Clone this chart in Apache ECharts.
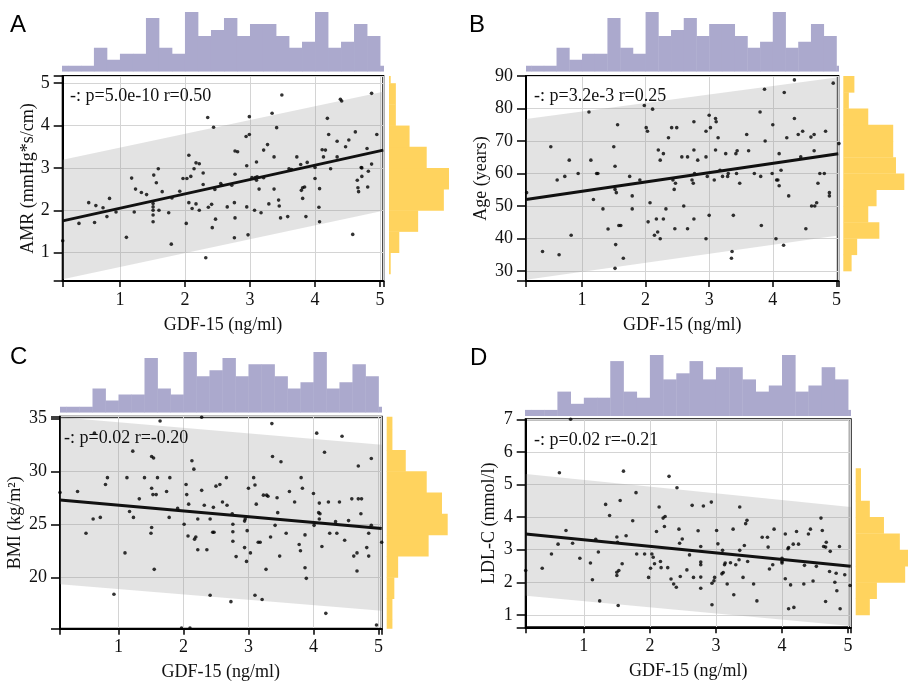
<!DOCTYPE html>
<html><head><meta charset="utf-8">
<script src="https://cdn.jsdelivr.net/npm/echarts@6/dist/echarts.min.js"></script>
<style>html,body{margin:0;padding:0;background:#fff}#c{width:908px;height:685px}</style>
</head><body><div id="c"></div>
<script>
// ---------------- DATA ----------------
// GDF-15 histogram (same for every panel)
const gdfBinEdges = [0,0.2,0.4,0.6,0.8,1.0,1.2,1.4,1.6,1.8,2.0,2.2,2.4,2.6,2.8,3.0,3.2,3.4,3.6,3.8,4.0,4.2,4.4,4.6,4.8,5.0,5.2];
const gdfHistCounts = [1,1,1,4,2,3,3,9,4,3,10,6,7,9,6,8,8,6,4,5,10,4,5,8,6,1];

// Panel A: AMR
const amrPoints = [[3.49,4.72],[4.87,4.76],[4.41,4.58],[4.39,4.62],[2.35,4.19],[2.99,4.21],[3.34,4.29],[2.44,3.96],[3.41,3.95],[4.19,4.17],[2.94,3.74],[2.99,3.79],[4.21,3.79],[4.95,3.79],[4.34,3.63],[4.52,3.66],[4.62,3.85],[3.27,3.55],[4.47,3.5],[2.77,3.4],[2.81,3.38],[2.06,3.3],[2.17,3.12],[2.22,3.1],[3.21,3.42],[3.1,3.14],[2.95,3.05],[3.37,3.26],[3.72,3.26],[3.78,3.08],[3.88,3.13],[4.11,3.43],[4.16,3.42],[4.13,3.26],[4.34,3.26],[4.8,3.46],[4.87,3.09],[4.72,3.0],[1.59,2.98],[2.14,2.98],[3.6,2.98],
[0.12,1.28],[0.37,1.69],[0.52,2.18],[0.61,1.71],[0.63,2.11],[0.74,2.06],[0.8,1.85],[0.84,2.28],[0.94,1.96],[1.1,1.36],[1.18,2.76],[1.22,1.96],[1.24,2.5],[1.33,2.42],[1.41,2.37],[1.51,2.16],[1.51,2.08],[1.51,2.0],[1.51,1.89],[1.51,1.73],[1.52,2.83],[1.56,2.65],[1.6,2.0],[1.65,2.44],[1.75,1.94],[1.79,1.2],[1.8,2.29],[1.92,2.45],[1.97,2.75],[2.02,1.69],[2.03,2.75],[2.06,2.18],[2.09,2.8],[2.11,2.04],[2.17,2.15],[2.22,2.0],[2.28,2.88],[2.28,2.61],[2.32,0.88],[2.36,2.07],[2.41,2.14],[2.42,1.59],[2.46,2.49],[2.47,1.79],[2.55,2.63],[2.57,2.59],[2.65,2.08],[2.72,2.59],[2.76,2.18],[2.77,2.85],[2.77,1.82],[2.76,1.35],[2.95,2.08],[2.97,1.42],[3.03,2.77],[3.08,2.77],[3.11,2.79],[3.1,2.71],[3.07,2.0],[3.14,2.5],[3.17,1.94],[3.21,2.77],[3.29,2.15],[3.37,2.5],[3.44,2.24],[3.45,2.1],[3.47,1.82],[3.58,1.85],[3.64,2.96],[3.79,2.47],[3.81,2.53],[3.84,2.55],[3.81,2.28],[3.86,1.85],[4.0,3.01],[4.0,2.75],[4.06,2.07],[4.07,1.73],[4.07,2.51],[4.24,2.98],[4.58,1.43],[4.65,2.71],[4.66,2.53],[4.67,2.44],[4.71,3.01],[4.72,2.8],[4.81,2.55],[4.82,2.92]];
const amrFit = [[0.12,1.75],[5.05,3.42]];
const amrBand = [[0.12,0.37,3.19],[5.05,1.99,4.80]]; // x, lower, upper
const amrBinEdges = [0.5,1.0,1.5,2.0,2.5,3.0,3.5,4.0,4.5,5.0,5.5];
const amrHistCounts = [1,6,17,32,35,22,12,4,4,1];

// Panel B: Age
const agePoints = [[4.34,88.8],[4.95,87.8],[3.87,85.9],[4.18,84.9],[1.98,80.9],[2.11,79.8],[1.11,78.9],[3.8,78.9],[3.0,77.9],[3.1,76.9],[3.11,75.9],[4.34,76.9],[2.76,75.9],[1.56,75.0],[4.0,75.0],[2.01,74.1],[2.03,73.0],[2.41,74.1],[2.49,74.1],[3.02,74.1],[2.95,73.0],[4.83,73.0],[3.59,72.0],[4.4,72.0],[4.47,73.0],[4.6,71.2],[4.65,72],[4.22,71.0],[3.14,71.0],[2.36,71.0],[3.88,70.0],[0.51,68.2],[1.5,68.2],[5.04,69.2],[2.2,67.2],[2.28,66.1],[2.76,67.2],[2.57,65.1],[2.66,65.1],[2.82,64.1],[2.95,65.1],[3.1,67.2],[3.26,66.1],[3.42,66.1],[3.44,67],[3.62,67],[4.1,66.1],[4.44,65.1],[4.65,67],[0.8,64.1],[1.14,64.1],[2.23,64.1],
[0.13,54.1],[0.38,36.0],[0.61,58.0],[0.64,35.0],[0.73,59.1],[0.83,41.0],[0.94,60.0],[1.18,52.0],[1.23,60],[1.25,60],[1.33,49.1],[1.41,42.9],[1.52,62.2],[1.52,55.1],[1.54,54.1],[1.53,38.1],[1.52,30.8],[1.58,44],[1.61,44],[1.65,33.9],[1.75,59.1],[1.79,53.1],[1.79,49.1],[1.91,58.0],[2.04,45.1],[2.07,51.0],[2.14,41],[2.17,46.0],[2.19,42],[2.23,39.9],[2.28,46],[2.32,49.1],[2.43,58],[2.45,55.1],[2.47,57],[2.46,43.0],[2.6,50],[2.66,43],[2.73,58],[2.75,57],[2.77,60],[2.76,46],[2.95,39.9],[2.97,59.1],[3.0,47.1],[3.08,58],[3.17,61],[3.21,59.1],[3.29,59.1],[3.3,60],[3.35,33.9],[3.36,36],[3.38,47.1],[3.43,60],[3.48,57],[3.71,60],[3.81,59.1],[3.82,44],[3.99,60],[4.05,39.9],[4.06,58],[4.08,58],[4.1,56.2],[4.13,61],[4.17,37.9],[4.25,53.1],[4.52,43],[4.71,57],[4.74,60],[4.81,60],[4.61,50],[4.66,50],[4.69,51],[4.89,54.1],[4.89,53.1]];
const ageFit = [[0.12,52.0],[5.03,66.1]];
const ageBand = [[0.12,27.3,76.8],[5.03,40.9,89.6]];
const ageBinEdges = [30,35,40,45,50,55,60,65,70,75,80,85,90];
const ageHistCounts = [3,5,13,9,12,22,19,18,18,9,2,4];

// Panel C: BMI
const bmiPoints = [[0.63,33.6],[1.64,34.75],[2.28,35.1],[3.36,34.5],[4.05,33.6],[4.44,33.3],[1.22,31.9],[1.51,31.4],[1.54,31.25],[2.13,31.0],[2.16,30.2],[3.37,31.4],[3.5,30.9],[4.17,31.8],[4.89,31.2],[4.69,30.5],[0.1,28.0],[0.37,28.1],[0.8,28.75],[0.83,29.4],[1.13,29.4],[1.32,27.4],[1.4,29.4],[1.51,28.4],[1.53,27.8],[1.58,27.8],[1.6,29.4],[1.74,28.1],[1.79,29.4],[2.04,28.75],[2.05,27.8],[2.08,26.9],[2.28,28.2],[2.32,26.8],[2.46,26.6],[2.5,28.6],[2.56,28.75],[2.6,27.1],[2.66,29.4],[2.67,26.8],[3.0,28.4],[3.08,29.4],[3.1,28.7],[3.12,26.9],[3.23,27.75],[3.28,27.75],[3.3,27.65],[3.44,27.5],[3.63,28.1],[3.71,27.1],[3.81,29.4],[3.83,28.4],[4.0,27.9],[4.09,27.0],[4.23,27.1],[4.4,27.1],[4.59,27.4],[4.69,27.4],[4.74,27.4],
[0.5,24.15],[0.61,25.5],[0.72,25.65],[0.93,18.4],[1.1,22.3],[1.17,26.2],[1.23,25.65],[1.5,24.15],[1.51,24.7],[1.55,20.75],[1.78,25.65],[1.91,26.5],[1.97,15.2],[2.1,15.2],[2.01,25],[2.07,23.9],[2.17,23.6],[2.19,23.8],[2.22,25.5],[2.22,22.6],[2.36,22.6],[2.41,18.3],[2.41,25.5],[2.45,24.25],[2.47,24.25],[2.73,17.7],[2.75,26.0],[2.76,25.0],[2.76,24.3],[2.76,23.4],[2.81,21.95],[2.94,25.3],[2.95,25.5],[2.94,22.8],[2.97,21.5],[2.98,24.4],[3.03,22.3],[3.1,18.3],[3.15,23.3],[3.18,23.3],[3.21,17.9],[3.27,20.75],[3.34,23.8],[3.41,24.9],[3.45,26.1],[3.48,22.0],[3.58,24.15],[3.78,23.1],[3.8,22.5],[3.87,24.0],[3.87,20.9],[3.89,19.9],[4.01,24.9],[4.08,26.1],[4.1,26.0],[4.09,25.5],[4.13,22.9],[4.19,16.6],[4.25,24.15],[4.34,25.25],[4.36,24.15],[4.48,23.5],[4.54,25.35],[4.62,22.0],[4.67,22.3],[4.67,20.6],[4.73,26.0],[4.82,22.8],[4.85,24.15],[4.85,22.0],[4.89,24.9],[4.97,15.5],[5.05,23.3]];
const bmiFit = [[0.1,27.3],[5.05,24.6]];
const bmiBand = [[0.1,19.35,35.1],[5.05,16.85,32.5]];
const bmiBinEdges = [14,16,18,20,22,24,26,28,30,32,34,36];
const bmiHistCounts = [3,3,4,6,22,32,29,21,10,3,3];

// Panel D: LDL-C
const ldlPoints = [[0.8,7.0],[0.63,5.36],[1.6,5.41],[2.29,5.25],[2.41,4.9],[1.79,4.75],[1.33,4.39],[1.55,4.51],[2.14,4.31],[2.64,4.36],[2.81,4.34],[2.93,4.46],[3.36,4.31],
[0.12,2.36],[0.37,2.43],[0.51,2.87],[0.61,3.17],[0.73,3.59],[0.83,3.2],[0.94,2.74],[1.1,2.59],[1.13,2.08],[1.18,3.32],[1.22,2.93],[1.24,1.43],[1.39,4.05],[1.5,3.39],[1.51,3.23],[1.5,2.21],[1.5,2.31],[1.53,2.36],[1.52,1.29],[1.58,2.57],[1.64,3.43],[1.74,3.89],[1.8,2.87],[1.92,2.87],[1.98,2.15],[2.01,2.43],[2.03,2.87],[2.05,2.77],[2.07,2.57],[2.1,3.56],[2.16,2.64],[2.17,2.45],[2.2,3.97],[2.23,4.02],[2.22,3.71],[2.27,2.45],[2.32,2.1],[2.36,1.95],[2.4,1.85],[2.44,3.63],[2.45,3.2],[2.49,3.33],[2.46,2.18],[2.56,2.38],[2.6,2.84],[2.66,2.15],[2.73,3.58],[2.77,3.1],[2.77,2.62],[2.77,2.54],[2.77,1.82],[2.77,2.16],[2.94,1.97],[2.97,2.05],[2.98,2.15],[2.94,1.31],[3.01,3.59],[3.03,3.18],[3.1,2.98],[3.09,2.26],[3.11,2.3],[3.13,2.54],[3.14,2.59],[3.17,1.95],[3.22,2.6],[3.26,3.63],[3.27,1.62],[3.3,2.54],[3.35,2.69],[3.36,2.98],[3.41,2.15],[3.43,3.13],[3.45,3.8],[3.47,3.9],[3.48,2.64],[3.57,1.95],[3.62,1.43],[3.7,3.38],[3.78,3.38],[3.79,3.08],[3.81,2.41],[3.86,2.54],[3.88,3.63],[4.0,2.74],[4.0,2.64],[4.0,2.59],[4.05,3.48],[4.05,2.11],[4.09,3.03],[4.1,3.07],[4.1,1.19],[4.13,1.92],[4.17,3.17],[4.18,1.23],[4.22,3.56],[4.25,3.17],[4.33,1.95],[4.34,2.52],[4.4,3.48],[4.43,3.63],[4.47,2.04],[4.52,2.49],[4.59,3.97],[4.61,3.59],[4.63,3.1],[4.66,3.08],[4.67,3.23],[4.66,1.41],[4.72,2.33],[4.73,2.95],[4.8,2.0],[4.82,2.28],[4.83,1.74],[4.87,3.1],[4.88,1.19],[4.95,2.23],[5.03,1.9]];
const ldlFit = [[0.12,3.48],[5.04,2.49]];
const ldlBand = [[0.12,1.59,5.32],[5.04,0.66,4.31]];
const ldlBinEdges = [1.0,1.5,2.0,2.5,3.0,3.5,4.0,4.5,5.0,5.5];
const ldlHistCounts = [8,12,28,30,25,16,8,3,3];

const xAxisName = 'GDF-15 (ng/ml)';
const panelLetters = ['A','B','C','D'];
const yAxisNames = ['AMR (mmHg*s/cm)','Age (years)','BMI (kg/m\u00b2)','LDL-C (mmol/l)'];
const statTexts = ['-: p=5.0e-10 r=0.50','-: p=3.2e-3 r=0.25','-: p=0.02 r=-0.20','-: p=0.02 r=-0.21'];

// ---------------- LAYOUT ----------------
const panels = [
  {pts:amrPoints, fit:amrFit, band:amrBand, edges:amrBinEdges, counts:amrHistCounts,
   L:62.7, T:76, W:320.6, H:205, xMin:0.12, xMax:5.05, yMin:0.33, yMax:5.17,
   hT:12, hH:59.7, rL:389, rW:60, rMax:35, yGap:25, letter:[10,13], stat:[70,87]},
  {pts:agePoints, fit:ageFit, band:ageBand, edges:ageBinEdges, counts:ageHistCounts,
   L:526, T:76, W:312.3, H:205, xMin:0.12, xMax:5.03, yMin:26.9, yMax:90,
   hT:12, hH:59.7, rL:843.3, rW:61, rMax:22, yGap:36, letter:[469,13], stat:[534,87]},
  {pts:bmiPoints, fit:bmiFit, band:bmiBand, edges:bmiBinEdges, counts:bmiHistCounts,
   L:60, T:416.7, W:321.7, H:212, xMin:0.1, xMax:5.05, yMin:15.15, yMax:35.15,
   hT:352, hH:60.7, rL:386.7, rW:61, rMax:32, yGap:36, letter:[10,345], stat:[64,429]},
  {pts:ldlPoints, fit:ldlFit, band:ldlBand, edges:ldlBinEdges, counts:ldlHistCounts,
   L:525.7, T:419.3, W:325, H:208, xMin:0.12, xMax:5.04, yMin:0.62, yMax:7,
   hT:355, hH:61, rL:855.7, rW:53, rMax:30, yGap:27, letter:[470,346], stat:[534,431]}
];

const SERIF = 'Liberation Serif, Times New Roman, serif';
const PURPLE = '#aba9cd', YELLOW = '#ffd35e';
const intLabel = v => Math.abs(v - Math.round(v)) < 1e-9 ? String(Math.round(v)) : '';

const grid = [], xAxis = [], yAxis = [], series = [], title = [];
panels.forEach((p, i) => {
  const gi = i * 3;
  grid.push({left:p.L, top:p.T, width:p.W, height:p.H, show:true, borderColor:'#000', borderWidth:2, backgroundColor:'transparent', outerBoundsMode:'none'});
  grid.push({left:p.L, top:p.hT, width:p.W, height:p.hH, outerBoundsMode:'none'});
  grid.push({left:p.rL, top:p.T, width:p.rW, height:p.H, outerBoundsMode:'none'});

  xAxis.push({gridIndex:gi, type:'value', min:p.xMin, max:p.xMax, splitNumber:5,
    axisLine:{show:true, onZero:false, lineStyle:{color:'#000', width:2}},
    axisTick:{show:true, length:6, lineStyle:{color:'#000', width:1.5}},
    axisLabel:{formatter:intLabel, margin:10, fontSize:18, fontFamily:SERIF, color:'#111'},
    splitLine:{show:true, lineStyle:{color:'#d4d4d4', width:1}},
    name:xAxisName, nameLocation:'middle', nameGap:35, nameMoveOverlap:false,
    nameTextStyle:{fontSize:18, fontFamily:SERIF, color:'#111'}});
  yAxis.push({gridIndex:gi, type:'value', min:p.yMin, max:p.yMax, splitNumber:5,
    axisLine:{show:true, onZero:false, lineStyle:{color:'#000', width:2}},
    axisTick:{show:true, length:9, lineStyle:{color:'#000', width:1.5}},
    axisLabel:{formatter:intLabel, margin:13, fontSize:18, fontFamily:SERIF, color:'#111'},
    splitLine:{show:true, lineStyle:{color:'#d4d4d4', width:1}},
    name:yAxisNames[i], nameLocation:'middle', nameGap:p.yGap, nameMoveOverlap:false,
    nameTextStyle:{fontSize:18, fontFamily:SERIF, color:'#111'}});

  xAxis.push({gridIndex:gi+1, type:'value', min:p.xMin, max:p.xMax, show:false});
  yAxis.push({gridIndex:gi+1, type:'value', min:0, max:10, show:false});
  xAxis.push({gridIndex:gi+2, type:'value', min:0, max:p.rMax, show:false});
  yAxis.push({gridIndex:gi+2, type:'value', min:p.yMin, max:p.yMax, show:false});

  // prediction band
  series.push({type:'custom', xAxisIndex:gi, yAxisIndex:gi, clip:true, silent:true, z:1,
    data:[[p.band[0][0], p.band[0][1], p.band[0][2], p.band[1][0], p.band[1][1], p.band[1][2]]],
    renderItem:(params, api) => {
      const x0 = api.value(0), l0 = api.value(1), u0 = api.value(2), x1 = api.value(3), l1 = api.value(4), u1 = api.value(5);
      return {type:'polygon', shape:{points:[api.coord([x0,l0]), api.coord([x1,l1]), api.coord([x1,u1]), api.coord([x0,u0])]},
        style:{fill:'rgba(150,150,150,0.27)'}};
    }});
  // points
  series.push({type:'scatter', xAxisIndex:gi, yAxisIndex:gi, data:p.pts, symbolSize:3.6, clip:false, z:3,
    itemStyle:{color:'#000'}, silent:true});
  // regression line
  series.push({type:'line', xAxisIndex:gi, yAxisIndex:gi, data:p.fit, showSymbol:false, z:4, silent:true,
    lineStyle:{color:'#111', width:3}});
  // top histogram
  series.push({type:'custom', xAxisIndex:gi+1, yAxisIndex:gi+1, clip:true, silent:true,
    data:gdfHistCounts.map((c, k) => [gdfBinEdges[k], gdfBinEdges[k+1], c]),
    renderItem:(params, api) => {
      const a = api.coord([api.value(0), api.value(2)]), b = api.coord([api.value(1), 0]);
      return {type:'rect', shape:{x:a[0], y:a[1], width:b[0]-a[0]+0.4, height:b[1]-a[1]}, style:{fill:PURPLE}};
    }});
  // right histogram
  series.push({type:'custom', xAxisIndex:gi+2, yAxisIndex:gi+2, clip:true, silent:true,
    data:p.counts.map((c, k) => [p.edges[k], p.edges[k+1], c]),
    renderItem:(params, api) => {
      const a = api.coord([0, api.value(1)]), b = api.coord([api.value(2), api.value(0)]);
      return {type:'rect', shape:{x:a[0], y:a[1], width:b[0]-a[0], height:b[1]-a[1]+0.4}, style:{fill:YELLOW}};
    }});

  title.push({text:panelLetters[i], left:p.letter[0], top:p.letter[1], padding:0,
    textStyle:{fontSize:24, fontWeight:'normal', fontFamily:'Liberation Sans, Arial, sans-serif', color:'#000'}});
  title.push({text:statTexts[i], left:p.stat[0], top:p.stat[1], padding:0,
    textStyle:{fontSize:18, fontWeight:'normal', fontFamily:SERIF, color:'#111'}});
});

const chart = echarts.init(document.getElementById('c'), null, {renderer:'canvas'});
chart.setOption({animation:false, backgroundColor:'#fff', title, grid, xAxis, yAxis, series});
</script></body></html>
